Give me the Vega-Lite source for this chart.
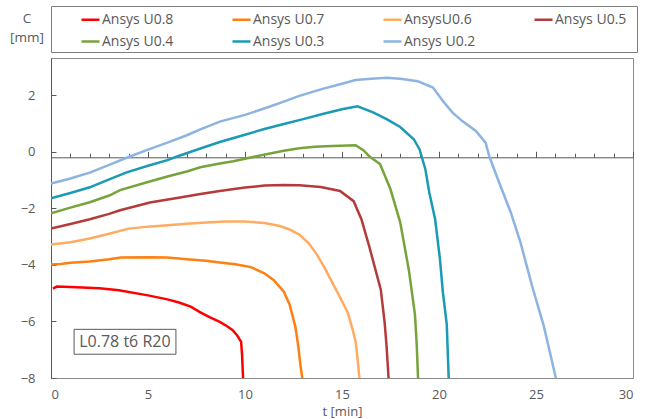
{
  "$schema": "https://vega.github.io/schema/vega-lite/v6.json",
  "autosize": "none",
  "width": 582,
  "height": 320,
  "padding": {"left": 51, "top": 58, "right": 15, "bottom": 41},
  "background": "white",
  "config": {"view": {"stroke": "#8a8a8a", "strokeWidth": 1}, "font": "Open Sans"},
  "datasets": {
    "curves": [
      {"series": "Ansys U0.8", "t": 0.1, "C": -4.84}, {"series": "Ansys U0.8", "t": 0.3, "C": -4.77}, {"series": "Ansys U0.8", "t": 1, "C": -4.78}, {"series": "Ansys U0.8", "t": 2.5, "C": -4.83}, {"series": "Ansys U0.8", "t": 3.5, "C": -4.9}, {"series": "Ansys U0.8", "t": 5, "C": -5.08}, {"series": "Ansys U0.8", "t": 6, "C": -5.22}, {"series": "Ansys U0.8", "t": 6.6, "C": -5.33}, {"series": "Ansys U0.8", "t": 7.2, "C": -5.48}, {"series": "Ansys U0.8", "t": 7.7, "C": -5.68}, {"series": "Ansys U0.8", "t": 8.2, "C": -5.86}, {"series": "Ansys U0.8", "t": 8.7, "C": -6.02}, {"series": "Ansys U0.8", "t": 9.1, "C": -6.18}, {"series": "Ansys U0.8", "t": 9.35, "C": -6.3}, {"series": "Ansys U0.8", "t": 9.6, "C": -6.5}, {"series": "Ansys U0.8", "t": 9.8, "C": -6.72}, {"series": "Ansys U0.8", "t": 9.85, "C": -7.2}, {"series": "Ansys U0.8", "t": 9.9, "C": -8},
      {"series": "Ansys U0.7", "t": 0, "C": -3.99}, {"series": "Ansys U0.7", "t": 0.5, "C": -3.97}, {"series": "Ansys U0.7", "t": 1, "C": -3.93}, {"series": "Ansys U0.7", "t": 2, "C": -3.88}, {"series": "Ansys U0.7", "t": 3, "C": -3.8}, {"series": "Ansys U0.7", "t": 3.6, "C": -3.74}, {"series": "Ansys U0.7", "t": 5, "C": -3.73}, {"series": "Ansys U0.7", "t": 6, "C": -3.74}, {"series": "Ansys U0.7", "t": 7, "C": -3.8}, {"series": "Ansys U0.7", "t": 8, "C": -3.86}, {"series": "Ansys U0.7", "t": 8.7, "C": -3.92}, {"series": "Ansys U0.7", "t": 9.5, "C": -3.98}, {"series": "Ansys U0.7", "t": 10.3, "C": -4.08}, {"series": "Ansys U0.7", "t": 11, "C": -4.3}, {"series": "Ansys U0.7", "t": 11.5, "C": -4.55}, {"series": "Ansys U0.7", "t": 12, "C": -4.95}, {"series": "Ansys U0.7", "t": 12.3, "C": -5.4}, {"series": "Ansys U0.7", "t": 12.6, "C": -6.2}, {"series": "Ansys U0.7", "t": 12.75, "C": -6.9}, {"series": "Ansys U0.7", "t": 12.85, "C": -7.5}, {"series": "Ansys U0.7", "t": 12.95, "C": -8},
      {"series": "AnsysU0.6", "t": 0, "C": -3.28}, {"series": "AnsysU0.6", "t": 1, "C": -3.2}, {"series": "AnsysU0.6", "t": 2, "C": -3.07}, {"series": "AnsysU0.6", "t": 3, "C": -2.9}, {"series": "AnsysU0.6", "t": 4, "C": -2.72}, {"series": "AnsysU0.6", "t": 5, "C": -2.65}, {"series": "AnsysU0.6", "t": 6, "C": -2.6}, {"series": "AnsysU0.6", "t": 7, "C": -2.55}, {"series": "AnsysU0.6", "t": 8, "C": -2.5}, {"series": "AnsysU0.6", "t": 9, "C": -2.47}, {"series": "AnsysU0.6", "t": 10, "C": -2.47}, {"series": "AnsysU0.6", "t": 11, "C": -2.52}, {"series": "AnsysU0.6", "t": 11.8, "C": -2.63}, {"series": "AnsysU0.6", "t": 12.3, "C": -2.75}, {"series": "AnsysU0.6", "t": 12.8, "C": -2.93}, {"series": "AnsysU0.6", "t": 13.3, "C": -3.25}, {"series": "AnsysU0.6", "t": 13.7, "C": -3.63}, {"series": "AnsysU0.6", "t": 14.1, "C": -4.1}, {"series": "AnsysU0.6", "t": 14.5, "C": -4.63}, {"series": "AnsysU0.6", "t": 14.9, "C": -5.15}, {"series": "AnsysU0.6", "t": 15.3, "C": -5.69}, {"series": "AnsysU0.6", "t": 15.55, "C": -6.3}, {"series": "AnsysU0.6", "t": 15.7, "C": -6.7}, {"series": "AnsysU0.6", "t": 15.8, "C": -7.3}, {"series": "AnsysU0.6", "t": 15.9, "C": -8},
      {"series": "Ansys U0.5", "t": 0, "C": -2.72}, {"series": "Ansys U0.5", "t": 1, "C": -2.56}, {"series": "Ansys U0.5", "t": 2, "C": -2.39}, {"series": "Ansys U0.5", "t": 3, "C": -2.2}, {"series": "Ansys U0.5", "t": 3.56, "C": -2.07}, {"series": "Ansys U0.5", "t": 5.1, "C": -1.8}, {"series": "Ansys U0.5", "t": 6.65, "C": -1.62}, {"series": "Ansys U0.5", "t": 7.7, "C": -1.5}, {"series": "Ansys U0.5", "t": 8.7, "C": -1.39}, {"series": "Ansys U0.5", "t": 10, "C": -1.27}, {"series": "Ansys U0.5", "t": 11, "C": -1.2}, {"series": "Ansys U0.5", "t": 12, "C": -1.18}, {"series": "Ansys U0.5", "t": 12.8, "C": -1.19}, {"series": "Ansys U0.5", "t": 13.9, "C": -1.25}, {"series": "Ansys U0.5", "t": 14.9, "C": -1.39}, {"series": "Ansys U0.5", "t": 15.6, "C": -1.75}, {"series": "Ansys U0.5", "t": 16.0, "C": -2.39}, {"series": "Ansys U0.5", "t": 16.4, "C": -3.34}, {"series": "Ansys U0.5", "t": 17.0, "C": -4.88}, {"series": "Ansys U0.5", "t": 17.2, "C": -6.05}, {"series": "Ansys U0.5", "t": 17.3, "C": -6.9}, {"series": "Ansys U0.5", "t": 17.4, "C": -8},
      {"series": "Ansys U0.4", "t": 0, "C": -2.18}, {"series": "Ansys U0.4", "t": 1, "C": -1.98}, {"series": "Ansys U0.4", "t": 2, "C": -1.79}, {"series": "Ansys U0.4", "t": 3, "C": -1.55}, {"series": "Ansys U0.4", "t": 3.56, "C": -1.36}, {"series": "Ansys U0.4", "t": 5, "C": -1.07}, {"series": "Ansys U0.4", "t": 6, "C": -0.88}, {"series": "Ansys U0.4", "t": 7, "C": -0.7}, {"series": "Ansys U0.4", "t": 7.7, "C": -0.55}, {"series": "Ansys U0.4", "t": 8.7, "C": -0.42}, {"series": "Ansys U0.4", "t": 9.4, "C": -0.34}, {"series": "Ansys U0.4", "t": 10, "C": -0.25}, {"series": "Ansys U0.4", "t": 11.1, "C": -0.09}, {"series": "Ansys U0.4", "t": 12, "C": 0.03}, {"series": "Ansys U0.4", "t": 12.8, "C": 0.12}, {"series": "Ansys U0.4", "t": 13.6, "C": 0.17}, {"series": "Ansys U0.4", "t": 14.5, "C": 0.2}, {"series": "Ansys U0.4", "t": 15.7, "C": 0.23}, {"series": "Ansys U0.4", "t": 16.1, "C": 0.05}, {"series": "Ansys U0.4", "t": 16.4, "C": -0.16}, {"series": "Ansys U0.4", "t": 16.96, "C": -0.44}, {"series": "Ansys U0.4", "t": 17.5, "C": -1.33}, {"series": "Ansys U0.4", "t": 18.0, "C": -2.5}, {"series": "Ansys U0.4", "t": 18.45, "C": -4.2}, {"series": "Ansys U0.4", "t": 18.76, "C": -5.75}, {"series": "Ansys U0.4", "t": 18.85, "C": -6.8}, {"series": "Ansys U0.4", "t": 18.92, "C": -8},
      {"series": "Ansys U0.3", "t": 0, "C": -1.65}, {"series": "Ansys U0.3", "t": 1, "C": -1.46}, {"series": "Ansys U0.3", "t": 2, "C": -1.26}, {"series": "Ansys U0.3", "t": 3, "C": -0.98}, {"series": "Ansys U0.3", "t": 3.9, "C": -0.73}, {"series": "Ansys U0.3", "t": 5, "C": -0.5}, {"series": "Ansys U0.3", "t": 6, "C": -0.3}, {"series": "Ansys U0.3", "t": 6.5, "C": -0.17}, {"series": "Ansys U0.3", "t": 7.7, "C": 0.11}, {"series": "Ansys U0.3", "t": 8.7, "C": 0.34}, {"series": "Ansys U0.3", "t": 10, "C": 0.6}, {"series": "Ansys U0.3", "t": 11, "C": 0.8}, {"series": "Ansys U0.3", "t": 12, "C": 0.98}, {"series": "Ansys U0.3", "t": 13, "C": 1.15}, {"series": "Ansys U0.3", "t": 14, "C": 1.33}, {"series": "Ansys U0.3", "t": 15, "C": 1.5}, {"series": "Ansys U0.3", "t": 15.8, "C": 1.6}, {"series": "Ansys U0.3", "t": 16.6, "C": 1.39}, {"series": "Ansys U0.3", "t": 17.3, "C": 1.15}, {"series": "Ansys U0.3", "t": 18.0, "C": 0.87}, {"series": "Ansys U0.3", "t": 18.7, "C": 0.44}, {"series": "Ansys U0.3", "t": 19.0, "C": 0.08}, {"series": "Ansys U0.3", "t": 19.3, "C": -0.63}, {"series": "Ansys U0.3", "t": 19.5, "C": -1.44}, {"series": "Ansys U0.3", "t": 19.8, "C": -2.39}, {"series": "Ansys U0.3", "t": 20.05, "C": -3.8}, {"series": "Ansys U0.3", "t": 20.2, "C": -4.97}, {"series": "Ansys U0.3", "t": 20.4, "C": -6.1}, {"series": "Ansys U0.3", "t": 20.5, "C": -8},
      {"series": "Ansys U0.2", "t": 0, "C": -1.13}, {"series": "Ansys U0.2", "t": 1, "C": -0.95}, {"series": "Ansys U0.2", "t": 2, "C": -0.74}, {"series": "Ansys U0.2", "t": 3, "C": -0.47}, {"series": "Ansys U0.2", "t": 4, "C": -0.19}, {"series": "Ansys U0.2", "t": 5, "C": 0.07}, {"series": "Ansys U0.2", "t": 6, "C": 0.32}, {"series": "Ansys U0.2", "t": 7, "C": 0.58}, {"series": "Ansys U0.2", "t": 7.7, "C": 0.79}, {"series": "Ansys U0.2", "t": 8.7, "C": 1.06}, {"series": "Ansys U0.2", "t": 10, "C": 1.3}, {"series": "Ansys U0.2", "t": 11.1, "C": 1.55}, {"series": "Ansys U0.2", "t": 12, "C": 1.77}, {"series": "Ansys U0.2", "t": 12.8, "C": 1.97}, {"series": "Ansys U0.2", "t": 14, "C": 2.22}, {"series": "Ansys U0.2", "t": 15, "C": 2.4}, {"series": "Ansys U0.2", "t": 15.7, "C": 2.53}, {"series": "Ansys U0.2", "t": 16.5, "C": 2.58}, {"series": "Ansys U0.2", "t": 17.3, "C": 2.61}, {"series": "Ansys U0.2", "t": 18, "C": 2.58}, {"series": "Ansys U0.2", "t": 18.9, "C": 2.49}, {"series": "Ansys U0.2", "t": 19.5, "C": 2.32}, {"series": "Ansys U0.2", "t": 19.7, "C": 2.26}, {"series": "Ansys U0.2", "t": 20.2, "C": 1.79}, {"series": "Ansys U0.2", "t": 20.7, "C": 1.38}, {"series": "Ansys U0.2", "t": 21.2, "C": 1.08}, {"series": "Ansys U0.2", "t": 21.9, "C": 0.73}, {"series": "Ansys U0.2", "t": 22.4, "C": 0.32}, {"series": "Ansys U0.2", "t": 22.6, "C": -0.18}, {"series": "Ansys U0.2", "t": 23.1, "C": -1.09}, {"series": "Ansys U0.2", "t": 23.7, "C": -2.15}, {"series": "Ansys U0.2", "t": 24.2, "C": -3.21}, {"series": "Ansys U0.2", "t": 24.8, "C": -4.75}, {"series": "Ansys U0.2", "t": 25.4, "C": -6.16}, {"series": "Ansys U0.2", "t": 26.0, "C": -7.93}, {"series": "Ansys U0.2", "t": 26.03, "C": -8}
    ],
    "note": [{"label": "L0.78 t6 R20"}]
  },
  "layer": [
    {
      "data": {"name": "curves"},
      "mark": {"type": "line", "strokeWidth": 2.5, "clip": true},
      "encoding": {
        "x": {
          "field": "t", "type": "quantitative",
          "scale": {"domain": [0, 30], "nice": false, "zero": false},
          "axis": {
            "orient": "bottom", "values": [0, 5, 10, 15, 20, 25, 30], "ticks": false,
            "domainColor": "#8a8a8a", "grid": false,
            "labelFontSize": 13, "labelColor": "#595959", "labelPadding": 10,
            "title": "t [min]", "titleFontSize": 13, "titleFontWeight": "normal", "titleColor": "#595959", "titlePadding": 4
          }
        },
        "y": {
          "field": "C", "type": "quantitative",
          "scale": {"domain": [-8, 3.31], "nice": false, "zero": false},
          "axis": {
            "orient": "left", "values": [-8, -7, -6, -5, -4, -3, -2, -1, 0, 1, 2, 3],
            "labelExpr": "datum.value % 2 === 0 ? datum.label : ''",
            "tickSize": -5, "tickColor": "#595959", "domainColor": "#595959", "grid": false,
            "labelFontSize": 13, "labelColor": "#595959", "labelPadding": 21,
            "title": ["C", "[mm]"], "titleAngle": 0, "titleX": -24.5, "titleY": -36, "titleAlign": "center",
            "titleBaseline": "alphabetic", "titleLineHeight": 19, "titleFontSize": 13.5, "titleFontWeight": "normal", "titleColor": "#595959"
          }
        },
        "color": {
          "field": "series", "type": "nominal",
          "scale": {
            "domain": ["Ansys U0.8", "Ansys U0.7", "AnsysU0.6", "Ansys U0.5", "Ansys U0.4", "Ansys U0.3", "Ansys U0.2"],
            "range": ["#FF0000", "#FF7F11", "#FFAB61", "#B53A3A", "#77A33B", "#1A9AB4", "#8DB4E0"]
          },
          "legend": {
            "orient": "none", "legendX": 0, "legendY": -52, "direction": "horizontal", "columns": 4,
            "title": " ", "titleOrient": "right", "titlePadding": 8, "titleFontSize": 14,
            "symbolType": "stroke", "symbolSize": 324, "symbolStrokeWidth": 2.5,
            "labelFontSize": 14, "labelColor": "#595959", "labelOffset": 1,
            "columnPadding": 31, "rowPadding": 4, "padding": 3, "strokeColor": "#7f7f7f",
            "symbolOffset": 26, "gridAlign": "all"
          }
        }
      }
    },
    {
      "data": {"name": "note"},
      "mark": {"type": "rect", "fill": "white", "stroke": "#595959", "strokeWidth": 1},
      "encoding": {
        "x": {"datum": 1.19, "type": "quantitative", "axis": {"orient": "bottom", "offset": -220.7, "values": [0,1,2,3,4,5,6,7,8,9,10,11,12,13,14,15,16,17,18,19,20,21,22,23,24,25,26,27,28,29,30], "labels": false, "tickSize": -4, "tickColor": "#595959", "domainColor": "#595959", "title": null, "grid": false}},
        "x2": {"datum": 6.44},
        "y": {"datum": -6.28, "type": "quantitative"},
        "y2": {"datum": -7.16}
      }
    },
    {
      "data": {"name": "note"},
      "mark": {"type": "text", "fontSize": 16, "color": "#595959", "align": "center", "baseline": "middle"},
      "encoding": {
        "x": {"datum": 3.81, "type": "quantitative", "axis": {"orient": "bottom", "offset": -220.7, "values": [0, 5, 10, 15, 20, 25, 30], "labels": false, "domain": false, "tickSize": -6, "tickColor": "#595959", "title": null, "grid": false}},
        "y": {"datum": -6.72, "type": "quantitative"},
        "text": {"field": "label"}
      }
    }
  ],
  "resolve": {"axis": {"x": "independent"}}
}
